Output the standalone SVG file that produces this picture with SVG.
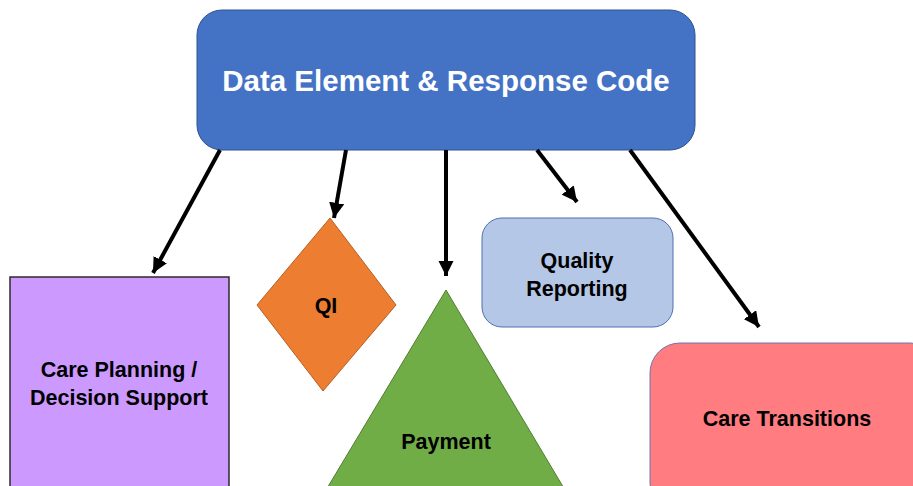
<svg xmlns="http://www.w3.org/2000/svg" width="913" height="486" viewBox="0 0 913 486">
  <style>
    .lbl { font-family: "Liberation Sans", Arial, sans-serif; font-weight: bold; fill: #000; text-anchor: middle; font-size: 21.5px; }
    .title { font-family: "Liberation Sans", Arial, sans-serif; font-weight: bold; fill: #fff; text-anchor: middle; font-size: 29.5px; }
    .conn { stroke: #000; stroke-width: 4; fill: none; marker-end: url(#head); }
  </style>
  <defs>
    <marker id="head" viewBox="0 0 10 10" refX="10" refY="5" markerWidth="3.8" markerHeight="3.8" orient="auto" markerUnits="strokeWidth">
      <path d="M0,0 L10,5 L0,10 z" fill="#000"/>
    </marker>
  </defs>
  <rect width="913" height="486" fill="#fff"/>

  <g id="node-care-planning">
    <rect x="10" y="277" width="219" height="220" fill="#CC99FF" stroke="#2b2b2b" stroke-width="1.5"/>
    <text class="lbl" x="119" y="377">Care Planning /</text>
    <text class="lbl" x="119" y="405">Decision Support</text>
  </g>

  <g id="node-qi">
    <polygon points="330,218 396,305 323,391 257,305" fill="#ED7D31" stroke="#B85F22" stroke-width="1"/>
    <text class="lbl" x="326" y="313">QI</text>
  </g>

  <g id="node-payment">
    <polygon points="446,290 565,490 326,490" fill="#70AD47" stroke="#507E32" stroke-width="1"/>
    <text class="lbl" x="446" y="449">Payment</text>
  </g>

  <g id="node-quality-reporting">
    <rect x="482" y="218" width="191" height="109" rx="20" fill="#B4C7E7" stroke="#4F6FAE" stroke-width="1"/>
    <text class="lbl" x="577" y="268">Quality</text>
    <text class="lbl" x="577" y="296">Reporting</text>
  </g>

  <g id="node-care-transitions">
    <rect x="650" y="343" width="290" height="170" rx="30" fill="#FF7C80" stroke="#6E75A8" stroke-width="1"/>
    <text class="lbl" x="787" y="426">Care Transitions</text>
  </g>

  <g id="node-data-element">
    <rect x="197" y="10" width="498" height="140" rx="25" fill="#4472C4" stroke="#2F528F" stroke-width="1"/>
    <text class="title" x="446" y="91">Data Element &amp; Response Code</text>
  </g>

  <g id="connectors">
    <line class="conn" x1="220" y1="150" x2="153" y2="273"/>
    <line class="conn" x1="346" y1="150" x2="334" y2="218"/>
    <line class="conn" x1="446" y1="150" x2="446" y2="276"/>
    <line class="conn" x1="537" y1="150" x2="577" y2="202"/>
    <line class="conn" x1="630" y1="150" x2="759" y2="327"/>
  </g>
</svg>
